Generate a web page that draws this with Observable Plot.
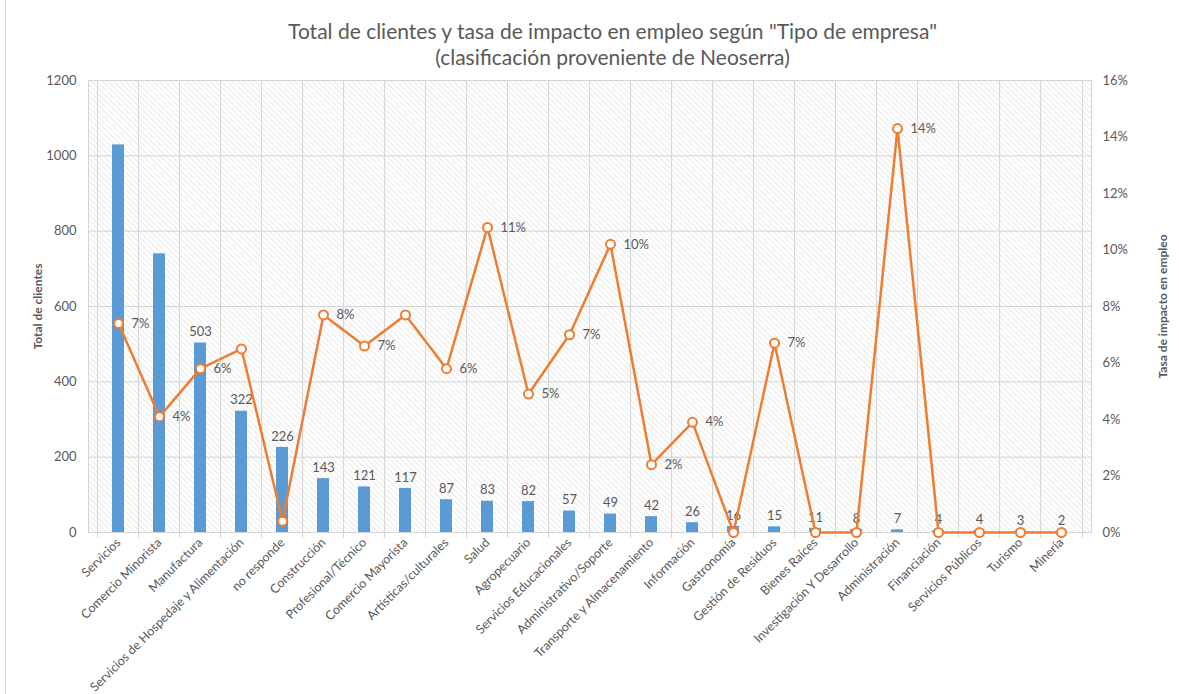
<!DOCTYPE html>
<html>
<head>
<meta charset="utf-8">
<script src="https://cdn.jsdelivr.net/npm/d3@7"></script>
<script src="https://cdn.jsdelivr.net/npm/@observablehq/plot@0.6"></script>
<style>
  html, body { margin: 0; padding: 0; background: #fff; }
  body { width: 1179px; height: 694px; overflow: hidden; position: relative; font-family: Lato, "Open Sans", sans-serif; }
  #frame { position: absolute; left: 5px; top: 0; width: 1180px; height: 700px; border-left: 1px solid #d9d9d9; pointer-events: none; }
  #title { height: 70px; text-align: center; color: #595959; font-size: 21px; line-height: 26px; padding-top: 18px; padding-left: 46px; box-sizing: border-box; }
  svg { display: block; }
</style>
</head>
<body>
<div id="frame"></div>
<div id="title">Total de clientes y tasa de impacto en empleo según "Tipo de empresa"<br>(clasificación proveniente de Neoserra)</div>
<div id="chart"></div>
<script>
const categories = ["Servicios", "Comercio Minorista", "Manufactura", "Servicios de Hospedaje y Alimentación", "no responde", "Construcción", "Profesional/Técnico", "Comercio Mayorista", "Artísticas/culturales", "Salud", "Agropecuario", "Servicios Educacionales", "Administrativo/Soporte", "Transporte y Almacenamiento", "Información", "Gastronomía", "Gestión de Residuos", "Bienes Raíces", "Investigación Y Desarrollo", "Administración", "Financiación", "Servicios Públicos", "Turismo", "Minería"];
const clientes = [1029, 740, 503, 322, 226, 143, 121, 117, 87, 83, 82, 57, 49, 42, 26, 16, 15, 11, 8, 7, 4, 4, 3, 2];
const tasa = [0.074, 0.041, 0.058, 0.065, 0.004, 0.077, 0.066, 0.077, 0.058, 0.108, 0.049, 0.070, 0.102, 0.024, 0.039, 0, 0.067, 0, 0, 0.143, 0, 0, 0, 0];
const tasaLabelShown = [1,1,1,0,0,1,1,0,1,1,1,1,1,1,1,0,1,0,0,1,0,0,0,0];
const clientesLabelShown = [0,0,1,1,1,1,1,1,1,1,1,1,1,1,1,1,1,1,1,1,1,1,1,1];
const leftTicks = [0, 200, 400, 600, 800, 1000, 1200];
const rightTicks = [0, 0.02, 0.04, 0.06, 0.08, 0.10, 0.12, 0.14, 0.16];

const yMax = 1200, pMax = 0.16, k = yMax / pMax;
const W = 1179, H = 624, mL = 88, mR = 88, mT = 10, mB = 162;
const step = (W - mL - mR) / categories.length;

const data = categories.map((c, i) => ({
  cat: c, clientes: clientes[i], tasa: tasa[i],
  showT: tasaLabelShown[i], showC: clientesLabelShown[i]
}));

const grey = "#595959";
const gridC = "#d4d4d4";
const chart = Plot.plot({
  width: W, height: H,
  marginLeft: mL, marginRight: mR, marginTop: mT, marginBottom: mB,
  style: { fontFamily: "Lato, 'Open Sans', sans-serif", fontSize: "13px", color: grey, background: "transparent" },
  x: { domain: categories, paddingInner: 0.7, paddingOuter: 0.35, label: null },
  y: { domain: [0, yMax], label: null },
  marks: [
    Plot.frame({ fill: "url(#hatch)", stroke: gridC }),
    Plot.gridY(leftTicks, { stroke: gridC, strokeOpacity: 1, strokeWidth: 1 }),
    Plot.ruleX(categories, { x: d => d, dx: -step / 2, stroke: gridC, strokeWidth: 1, insetBottom: -6 }),
    Plot.ruleX([categories[categories.length - 1]], { x: d => d, dx: step / 2, stroke: gridC, strokeWidth: 1, insetBottom: -6 }),
    Plot.ruleY([0], { stroke: gridC }),
    Plot.barY(data, { x: "cat", y: "clientes", fill: "#5B9BD5" }),
    Plot.text(data.filter(d => d.showC), { x: "cat", y: "clientes", text: d => String(d.clientes), dy: -11, fill: grey, fontSize: 13 }),
    Plot.line(data, { x: "cat", y: d => d.tasa * k, stroke: "#ED7D31", strokeWidth: 2.5 }),
    Plot.dot(data, { x: "cat", y: d => d.tasa * k, r: 4.5, fill: "white", stroke: "#ED7D31", strokeWidth: 2 }),
    Plot.text(data.filter(d => d.showT), { x: "cat", y: d => d.tasa * k, text: d => Math.round(d.tasa * 100) + "%", dx: 13, textAnchor: "start", fill: grey, fontSize: 13 }),
    Plot.axisY(leftTicks, { anchor: "left", tickSize: 0, tickPadding: 12, label: null, fill: grey, tickFormat: d => String(d) }),
    Plot.axisY(rightTicks.map(p => p * k), { anchor: "right", tickSize: 0, tickPadding: 11, label: null, fill: grey, tickFormat: d => Math.round(d / k * 100) + "%" }),
    Plot.axisX({ tickSize: 0, tickPadding: 8, tickRotate: -45, label: null, fill: grey, fontSize: 12.5 }),
    Plot.text(["Total de clientes"], { frameAnchor: "left", textAnchor: "middle", dx: -50, rotate: -90, fontWeight: "bold", fill: grey, fontSize: 12 }),
    Plot.text(["Tasa de impacto en empleo"], { frameAnchor: "right", textAnchor: "middle", dx: 72, rotate: -90, fontWeight: "bold", fill: grey, fontSize: 12 })
  ]
});

chart.insertAdjacentHTML("afterbegin",
  `<defs><pattern id="hatch" patternUnits="userSpaceOnUse" width="4" height="4" patternTransform="rotate(-45)">
     <rect width="4" height="4" fill="#ffffff"/>
     <line x1="0" y1="0" x2="0" y2="4" stroke="#dcdcdc" stroke-width="1.2"/>
   </pattern></defs>`);
document.getElementById("chart").appendChild(chart);
</script>
</body>
</html>
